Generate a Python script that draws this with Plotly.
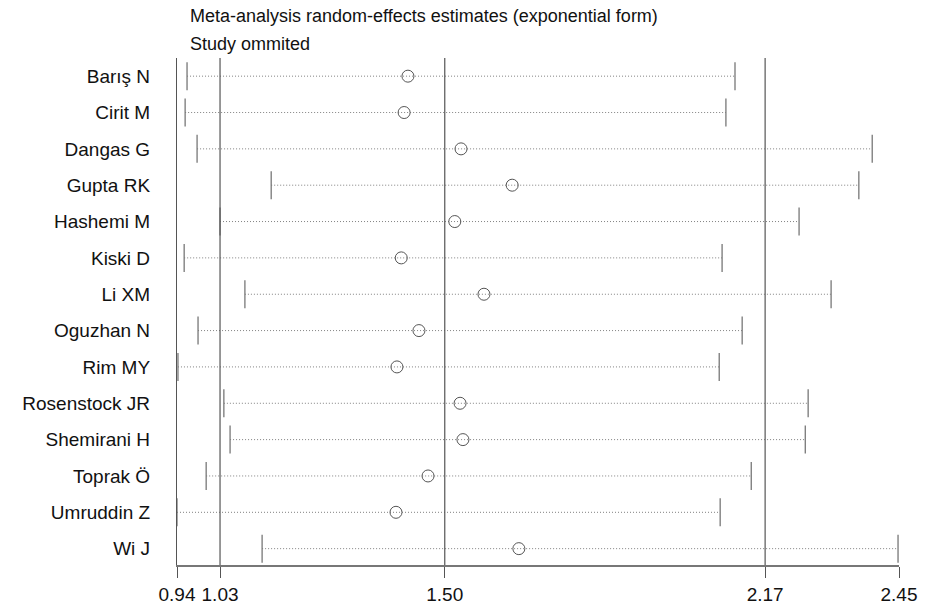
import plotly.graph_objects as go

studies = ["Barış N", "Cirit M", "Dangas G", "Gupta RK", "Hashemi M", "Kiski D", "Li XM",
           "Oguzhan N", "Rim MY", "Rosenstock JR", "Shemirani H", "Toprak Ö", "Umruddin Z", "Wi J"]
estimate = [1.423, 1.415, 1.534, 1.641, 1.521, 1.409, 1.582, 1.446, 1.400, 1.532, 1.538, 1.465, 1.398, 1.655]
lower = [0.961, 0.957, 0.982, 1.137, 1.030, 0.955, 1.082, 0.984, 0.942, 1.038, 1.051, 1.001, 0.940, 1.118]
upper = [2.107, 2.088, 2.394, 2.366, 2.241, 2.080, 2.308, 2.122, 2.074, 2.260, 2.254, 2.141, 2.076, 2.448]
overall = [1.03, 1.50, 2.17]
tick_vals = [0.94, 1.03, 1.50, 2.17, 2.45]
tick_text = ["0.94", "1.03", "1.50", "2.17", "2.45"]

FONT = "Liberation Sans, Arial, sans-serif"

fig = go.Figure()

# dotted CI lines
lx, ly = [], []
for s, lo, hi in zip(studies, lower, upper):
    lx += [lo, hi, None]
    ly += [s, s, None]
fig.add_trace(go.Scatter(x=lx, y=ly, mode="lines",
                         line=dict(color="#808080", width=1, dash="1px,2px"),
                         hoverinfo="skip", showlegend=False))

# CI end caps
fig.add_trace(go.Scatter(x=lower + upper, y=studies + studies, mode="markers",
                         marker=dict(symbol="line-ns-open", size=20, color="#777777",
                                     line=dict(color="#777777", width=1.3)),
                         hoverinfo="skip", showlegend=False))

# point estimates
fig.add_trace(go.Scatter(x=estimate, y=studies, mode="markers",
                         marker=dict(symbol="circle-open", size=12, color="#555555",
                                     line=dict(color="#555555", width=1)),
                         showlegend=False))

for v in overall:
    fig.add_vline(x=v, line=dict(color="#555555", width=1.2), layer="above")

fig.add_annotation(text="Meta-analysis random-effects estimates (exponential form)",
                   xref="paper", yref="paper", x=0.015, y=1.083, xanchor="left", yanchor="middle",
                   showarrow=False, font=dict(family=FONT, size=18, color="#111111"))
fig.add_annotation(text="Study ommited",
                   xref="paper", yref="paper", x=0.015, y=1.028, xanchor="left", yanchor="middle",
                   showarrow=False, font=dict(family=FONT, size=18, color="#111111"))

fig.update_layout(
    width=941, height=608,
    margin=dict(l=177, r=42, t=58, b=43),
    paper_bgcolor="white", plot_bgcolor="white",
    font=dict(family=FONT, color="#111111"),
    xaxis=dict(range=[0.94, 2.45], tickvals=tick_vals, ticktext=tick_text, automargin=False,
               showgrid=False, zeroline=False, showline=True, linecolor="#777777", linewidth=2,
               ticks="outside", ticklen=11, tickcolor="#555555", tickwidth=1,
               tickfont=dict(family=FONT, size=19, color="#111111")),
    yaxis=dict(categoryorder="array", categoryarray=studies, range=[13.45, -0.5], automargin=False,
               showgrid=False, zeroline=False, showline=True, linecolor="#555555", linewidth=1.2,
               ticks="", ticklabelstandoff=22,
               tickfont=dict(family=FONT, size=19, color="#111111")),
)

fig.write_html("out.html", config={"displayModeBar": False},
               post_script="document.body.style.margin='0';document.body.style.overflow='hidden';")
